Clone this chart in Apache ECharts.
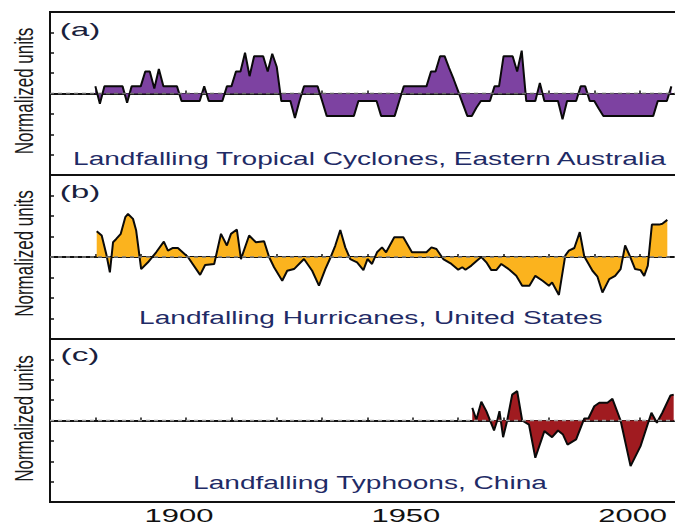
<!DOCTYPE html>
<html>
<head>
<meta charset="utf-8">
<script src="https://cdn.jsdelivr.net/npm/echarts@6/dist/echarts.min.js"></script>
<style>
html,body{margin:0;padding:0;background:#fff;}
#chart{width:675px;height:526px;}
</style>
</head>
<body>
<div id="chart"></div>
<script>
// ---- Data ----
// (a) Landfalling Tropical Cyclones, Eastern Australia: annual values from 1880
const ausStartYear = 1880;
const ausValues = [
  0.35,-0.5,0.35,0.35,0.35,0.35,0.35,-0.45,0.35,0.35,      // 1880-1889
  0.35,1.08,1.08,0.25,1.2,0.35,0.35,0.35,0.35,-0.37,       // 1890-1899
  -0.37,-0.37,-0.37,-0.37,0.35,-0.37,-0.37,-0.37,-0.37,0.35, // 1900-1909
  0.35,1.08,1.08,2.0,0.85,1.83,1.83,1.83,1.08,1.95,        // 1910-1919
  1.3,-0.37,-0.37,-0.37,-1.2,-0.37,0.35,0.35,0.35,0.35,    // 1920-1929
  -0.37,-1.1,-1.1,-1.1,-1.1,-1.1,-1.1,-1.1,-0.37,-0.37,    // 1930-1939
  -0.37,-0.37,-0.37,-1.1,-1.1,-1.1,-1.1,-0.37,0.35,0.35,   // 1940-1949
  0.35,0.35,0.35,0.35,1.08,1.08,1.83,1.83,1.25,0.7,        // 1950-1959
  0.1,-0.5,-1.1,-1.1,-0.7,-0.37,-0.37,-0.37,0.35,0.35,     // 1960-1969
  1.83,1.83,1.83,1.08,2.1,-0.37,-0.37,-0.37,0.52,-0.37,    // 1970-1979
  -0.37,-0.37,-0.37,-1.27,-0.37,-0.37,-0.37,0.35,0.35,-0.37, // 1980-1989
  -0.37,-0.75,-1.1,-1.1,-1.1,-1.1,-1.1,-1.1,-1.1,-1.1,     // 1990-1999
  -1.1,-1.1,-1.1,-1.1,-0.37,-0.37,-0.37,0.35               // 2000-2007
];

// (b) Landfalling Hurricanes, United States
const usYears = [
  1880.3,1881.4,1882.4,1883.2,1883.9,1884.6,1885.6,1886.6,1887.2,1888.3,
  1889.0,1890.1,1891.6,1893.4,1895.1,1896.0,1897.1,1898.2,1900.4,1903.1,
  1904.2,1906.2,1907.7,1909.0,1909.9,1911.2,1912.1,1913.9,1915.4,1917.2,
  1918.3,1919.4,1921.2,1922.3,1923.8,1926.0,1927.8,1929.3,1930.7,1931.8,
  1932.9,1934.0,1935.1,1936.2,1937.7,1939.1,1940.0,1941.0,1942.1,1943.2,
  1944.1,1945.9,1947.9,1949.8,1953.0,1954.1,1955.2,1956.7,1958.5,1960.0,
  1960.9,1961.6,1962.9,1964.1,1965.1,1966.2,1967.3,1968.4,1969.5,1971.3,
  1972.8,1974.1,1975.7,1977.0,1978.6,1980.0,1980.7,1982.2,1983.6,1984.4,
  1985.6,1986.8,1987.8,1989.6,1990.7,1991.8,1993.3,1994.6,1995.8,1996.8,
  1997.9,1999.0,2000.2,2001.0,2001.8,2002.7,2004.3,2005.0,2006.1
];
const usValues = [
  1.26,1.05,0.15,-0.75,0.72,0.88,1.13,1.94,2.1,1.86,
  1.29,-0.59,-0.26,0.23,0.75,0.31,0.44,0.44,0.0,-0.87,
  -0.39,-0.34,1.13,0.56,1.13,1.34,-0.1,1.05,0.72,0.77,
  0.0,-0.5,-1.16,-0.67,-0.59,-0.1,-0.67,-1.4,-0.59,-0.05,
  0.56,1.32,0.47,-0.1,-0.26,-0.64,-0.1,-0.34,0.23,0.47,
  0.23,0.96,0.96,0.23,0.23,0.47,0.39,-0.1,-0.34,-0.62,
  -0.5,-0.62,-0.42,-0.18,0.0,-0.26,-0.64,-0.64,-0.34,-0.62,
  -0.92,-1.4,-1.4,-0.92,-1.16,-1.4,-1.24,-1.85,0.07,0.31,
  0.44,1.21,0.02,-0.67,-0.96,-1.73,-1.08,-0.92,-0.59,0.56,
  0.02,-0.59,-0.64,-0.92,-0.42,1.58,1.58,1.62,1.81
];

// (c) Landfalling Typhoons, China
const cnYears = [
  1963.1,1964.0,1965.1,1966.2,1967.9,1968.6,1969.1,1969.9,1970.8,1971.9,
  1973.0,1974.1,1975.6,1977.0,1979.0,1980.7,1982.0,1983.1,1984.1,1986.0,
  1987.8,1988.7,1990.0,1991.1,1992.9,1994.0,1995.8,1998.0,2000.2,2002.6,
  2003.8,2005.0,2006.8,2007.5
];
const cnValues = [
  0.62,0.05,0.92,0.46,-0.49,0.0,0.46,-0.82,0.0,1.27,
  1.44,0.0,-0.2,-1.83,-0.52,-0.82,-0.49,-0.69,-1.18,-0.93,
  0.1,0.1,0.7,0.87,0.87,1.06,0.0,-2.24,-1.26,0.38,
  -0.11,0.38,1.23,1.27
];

const panelLabels = ['(a)', '(b)', '(c)'];
const panelTitles = [
  'Landfalling Tropical Cyclones, Eastern Australia',
  'Landfalling Hurricanes, United States',
  'Landfalling Typhoons, China'
];
const yAxisName = 'Normalized units';
const xTickLabels = [1900, 1950, 2000];

// ---- Build ----
const ausData = ausValues.map((v, i) => [ausStartYear + i, v]);
const usData = usYears.map((y, i) => [y, usValues[i]]);
const cnData = cnYears.map((y, i) => [y, cnValues[i]]);
const datasets = [ausData, usData, cnData];
const fills = ['#7d42a1', '#fbb31e', '#a01b20'];
const zeroColors = ['#6a6a6a', '#7a7a7a', '#a0a0a0'];

const X_MIN = 1870, X_MAX = 2010;
const gridLeft = 50, gridWidth = 635;
const grids = [
  {top: 12, height: 163},
  {top: 175, height: 164},
  {top: 339, height: 163}
];

const chart = echarts.init(document.getElementById('chart'), null, {renderer: 'svg'});

const option = {
  animation: false,
  backgroundColor: '#ffffff',
  grid: grids.map(g => ({
    left: gridLeft, width: gridWidth, top: g.top, height: g.height,
    outerBoundsMode: 'none', containLabel: false,
    show: true, borderColor: '#111', borderWidth: 2, backgroundColor: 'transparent'
  })),
  xAxis: grids.map((g, i) => ({
    type: 'value', gridIndex: i, min: X_MIN, max: X_MAX, interval: 10,
    axisLine: {show: true, lineStyle: {color: '#111', width: 2}},
    axisTick: {show: true, inside: true, length: 3, lineStyle: {color: '#111', width: 1.5}},
    splitLine: {show: false},
    axisLabel: {show: false}
  })),
  yAxis: grids.map((g, i) => ({
    type: 'value', gridIndex: i, min: -4, max: 4, interval: 1,
    axisLine: {show: true, lineStyle: {color: '#111', width: 2}},
    axisTick: {show: true, inside: true, length: 4, lineStyle: {color: '#111', width: 1.5}},
    axisLabel: {show: false},
    splitLine: {show: false}
  })),
  series: []
};

datasets.forEach((d, i) => {
  option.series.push({
    type: 'line', xAxisIndex: i, yAxisIndex: i, data: d,
    symbol: 'none', showSymbol: false, z: 2,
    lineStyle: {color: '#0a0a0a', width: 2},
    areaStyle: {color: fills[i], opacity: 1, origin: 0}
  });
  option.series.push({
    type: 'line', xAxisIndex: i, yAxisIndex: i,
    data: [[X_MIN, 0], [X_MAX, 0]],
    symbol: 'none', z: 3, silent: true,
    lineStyle: {color: zeroColors[i], width: 1.5, type: [4, 4]}
  });
});

const labelY = [29.5, 191.7, 355];
const titleY = [158.5, 318.3, 483.3];
const titleX = [369.5, 370.8, 370];
const nameY = [91, 253.5, 418.5];
const graphics = [];
for (let i = 0; i < 3; i++) {
  graphics.push({
    type: 'text', x: 80, y: labelY[i], scaleX: 1.85, z: 10,
    style: {text: panelLabels[i], fontFamily: 'Liberation Sans, Arial', fontSize: 18,
      fill: '#1a1f3d', textAlign: 'center', textVerticalAlign: 'middle'}
  });
  graphics.push({
    type: 'text', x: titleX[i], y: titleY[i], scaleX: 1.56, z: 10,
    style: {text: panelTitles[i], fontFamily: 'Liberation Sans, Arial', fontSize: 18,
      fill: '#1f2b66', textAlign: 'center', textVerticalAlign: 'middle'}
  });
  graphics.push({
    type: 'text', x: 24, y: nameY[i], rotation: Math.PI / 2, scaleY: 1.5, z: 10,
    style: {text: yAxisName, fontFamily: 'Liberation Sans, Arial', fontSize: 17,
      fill: '#1a1a1a', textAlign: 'center', textVerticalAlign: 'middle'}
  });
}
option.graphic = graphics;

chart.setOption(option);

// x tick labels placed through the bottom axis scale
xTickLabels.forEach(v => {
  const px = chart.convertToPixel({xAxisIndex: 2}, v);
  graphics.push({
    type: 'text', x: px - 7, y: 515, scaleX: 1.63, z: 10,
    style: {text: String(v), fontFamily: 'Liberation Sans, Arial', fontSize: 19,
      fill: '#111', textAlign: 'center', textVerticalAlign: 'middle'}
  });
});
chart.setOption({graphic: graphics});
</script>
</body>
</html>
